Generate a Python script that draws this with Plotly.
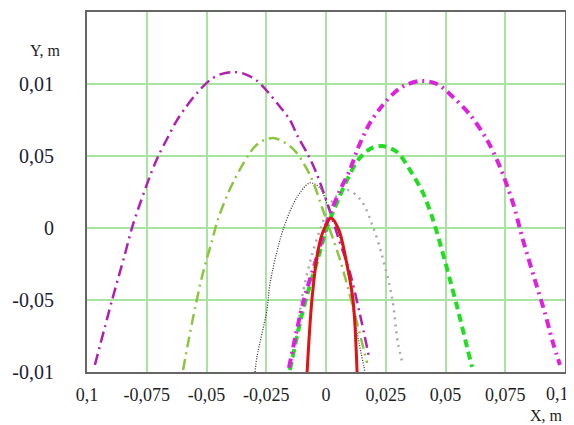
import plotly.graph_objects as go

# ---- tick labels (as printed in the reference) ----
x_tick_vals = [-0.1, -0.075, -0.05, -0.025, 0, 0.025, 0.05, 0.075, 0.1]
x_tick_text = ["0,1", "-0,075", "-0,05", "-0,025", "0", "0,025", "0,05", "0,075", ""]
x_last_label = "0,1"
y_tick_vals = [-0.1, -0.05, 0, 0.05, 0.1]
y_tick_text = ["-0,01", "-0,05", "0", "0,05", "0,01"]

# ---- trajectories ----
black_x = [-0.0297, -0.0289, -0.0247, -0.0234, -0.0180, -0.0121, -0.0067, -0.0025, 0.0017, 0.0046, 0.0100, 0.0113, 0.0163]
black_y = [-0.1, -0.0896, -0.0569, -0.0382, -0.0014, 0.0215, 0.0313, 0.0278, 0.0104, 0.0, -0.0382, -0.0569, -0.1]

gray_x = [-0.0146, -0.0126, -0.0100, -0.0059, -0.0021, 0.0029, 0.0088, 0.0146, 0.0197, 0.0234, 0.0276, 0.0301, 0.0322]
gray_y = [-0.0951, -0.0799, -0.0479, -0.0188, 0.0007, 0.0194, 0.0264, 0.0194, 0.0007, -0.0188, -0.0479, -0.0799, -0.0951]

lime_x = [-0.0598, -0.0577, -0.0548, -0.0515, -0.0477, -0.0452, -0.0389, -0.0289, -0.0222, -0.0142, -0.0067, -0.0013, 0.0059, 0.0113, 0.0172]
lime_y = [-0.0986, -0.0799, -0.0556, -0.0313, -0.0090, 0.0060, 0.0315, 0.0580, 0.0625, 0.0556, 0.0368, 0.0125, -0.0222, -0.0549, -0.0938]

purple_x = [-0.0967, -0.0895, -0.0841, -0.0812, -0.0778, -0.0732, -0.0703, -0.0661, -0.0628, -0.0586, -0.0536,
            -0.0485, -0.0439, -0.0389, -0.0339, -0.0293, -0.0243, -0.0192, -0.0151, -0.0117, -0.0075, -0.0042,
            0.0008, 0.0050, 0.0100, 0.0142, 0.0180]
purple_y = [-0.0951, -0.0500, -0.0180, 0.0, 0.0170, 0.0380, 0.0495, 0.0632, 0.0736, 0.0840, 0.0944,
            0.1028, 0.1069, 0.1083, 0.1069, 0.1028, 0.0944, 0.0840, 0.0750, 0.0632, 0.0507, 0.0389,
            0.0160, -0.0060, -0.0310, -0.0600, -0.0896]

green_x = [-0.0151, -0.0096, -0.0038, 0.0008, 0.0042, 0.0088, 0.0134, 0.0184, 0.0234, 0.0297, 0.0351, 0.0406, 0.0448, 0.0485, 0.0519, 0.0552, 0.0590, 0.0611]
green_y = [-0.0986, -0.0569, -0.0236, 0.0021, 0.0160, 0.0333, 0.0472, 0.0549, 0.0569, 0.0528, 0.0403, 0.0243, 0.0056, -0.0153, -0.0361, -0.0569, -0.0826, -0.0965]

magenta_x = [-0.0155, -0.0096, -0.0038, 0.0008, 0.0059, 0.0100, 0.0134, 0.0184, 0.0238, 0.0310, 0.0393, 0.0464, 0.0531, 0.0603, 0.0674, 0.0728, 0.0782, 0.0824, 0.0874, 0.0916, 0.0950, 0.0979]
magenta_y = [-0.0972, -0.0521, -0.0201, 0.0056, 0.0264, 0.0403, 0.0556, 0.0729, 0.0854, 0.0972, 0.1021, 0.1000, 0.0910, 0.0785, 0.0611, 0.0424, 0.0174, -0.0083, -0.0361, -0.0590, -0.0799, -0.0951]

red_x = [-0.0079, -0.0059, -0.0033, -0.0013, 0.0021, 0.0054, 0.0084, 0.0113, 0.0130]
red_y = [-0.1, -0.05, -0.0153, -0.0028, 0.0069, -0.0014, -0.0222, -0.05, -0.1]

fig = go.Figure()

def add(x, y, color, width, dash):
    fig.add_trace(go.Scatter(x=x, y=y, mode="lines",
                             line=dict(color=color, width=width, dash=dash, shape="spline", smoothing=0.9),
                             hoverinfo="skip", showlegend=False))

add(black_x, black_y, "#3a3a3a", 1.3, "1px,1.5px")
add(gray_x, gray_y, "#a8a8b0", 2.5, "2px,5px")
add(lime_x, lime_y, "#8cc63f", 2.5, "11px,5px,2px,5px")
add(purple_x, purple_y, "#b01fb0", 2.5, "11px,5px,2px,5px")
add(green_x, green_y, "#22dd22", 4, "8px,5px")
add(magenta_x, magenta_y, "#dd22dd", 4, "9px,5px,2px,5px")
add(red_x, red_y, "#e01212", 3, "solid")

serif = "Liberation Serif"
x_font = dict(family=serif, size=18, color="#1e1e1e")
y_font = dict(family=serif, size=20, color="#1c2233")

fig.update_xaxes(range=[-0.1, 0.1], tickvals=x_tick_vals, ticktext=x_tick_text,
                 showgrid=True, gridcolor="#a9e3a2", gridwidth=1.5, zeroline=False,
                 showline=True, linecolor="#666666", linewidth=2, mirror=True,
                 ticks="", tickfont=x_font, ticklabelstandoff=5, automargin=False,
                 ticklabeloverflow="allow")
fig.update_yaxes(range=[-0.1, 0.15], tickvals=y_tick_vals, ticktext=y_tick_text,
                 showgrid=True, gridcolor="#a9e3a2", gridwidth=1.5, zeroline=False,
                 showline=True, linecolor="#666666", linewidth=2, mirror=True,
                 ticks="", tickfont=y_font, ticklabelstandoff=27, automargin=False,
                 ticklabeloverflow="allow")

# right-most x label sits just inside the page edge, as in the reference
fig.add_annotation(text=x_last_label, xref="paper", yref="paper", x=1.0, y=-0.06,
                   showarrow=False, xanchor="right", yanchor="middle", xshift=6,
                   font=x_font)
fig.add_annotation(text="Y, m", xref="paper", yref="paper", x=-0.088, y=0.894,
                   showarrow=False, xanchor="center", yanchor="middle",
                   font=dict(family=serif, size=16, color="#1e1e1e"))
fig.add_annotation(text="X, m", xref="paper", yref="paper", x=0.962, y=-0.122,
                   showarrow=False, xanchor="center", yanchor="middle",
                   font=dict(family=serif, size=16, color="#1e1e1e"))

# page has an 8px body margin, so the figure is sized/offset to land the plot where the reference has it
fig.update_layout(width=566, height=417, margin=dict(l=79, r=9, t=4, b=53),
                  paper_bgcolor="white", plot_bgcolor="white")

fig.write_html("out.html")
